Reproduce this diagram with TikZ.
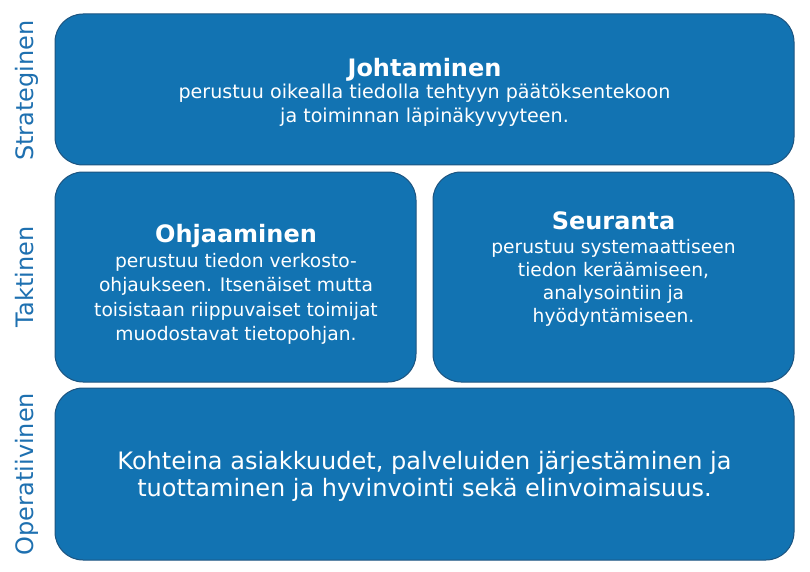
\documentclass[tikz,border=0pt]{standalone}
\usepackage{fontspec}
\setmainfont{DejaVu Sans}
\usetikzlibrary{positioning}
\definecolor{tileblue}{RGB}{18,115,178}
\definecolor{tileedge}{RGB}{28,84,128}
\definecolor{levelblue}{RGB}{30,112,176}

\begin{document}
\begin{tikzpicture}[x=1pt,y=-1pt,
   tile/.style={draw=tileedge,line width=1pt,fill=tileblue,rounded corners=28pt,inner sep=0pt},
   level/.style={text=levelblue,font=\fontsize{24}{24}\selectfont,rotate=90,anchor=base,inner sep=0pt},
   head/.style={text=white,font=\fontsize{24}{24}\selectfont\bfseries,anchor=base,inner sep=0pt},
   body/.style={text=white,align=center,inner sep=0pt}]
   \useasboundingbox (0,0) rectangle (810,572);
   % levels
   \node[level] (strat) at (33,90.5) {Strateginen};
   \node[level] (takt) at (33,277) {Taktinen};
   \node[level] (oper) at (33,474) {Operatiivinen};
   % tiles
   \node[tile,minimum width=739pt,minimum height=151pt] (johto) at (424.5,89.5) {};
   \node[tile,minimum width=361pt,minimum height=210pt] (ohjaus) at (235.5,277) {};
   \node[tile,minimum width=361pt,minimum height=210pt] (seuranta) at (613.5,277) {};
   \node[tile,minimum width=739pt,minimum height=172pt] (kohde) at (424.5,474) {};
   % texts
   \node[head] (jtitle) at (424.5,76.5) {Johtaminen};
   \node[body,font=\fontsize{19.1}{23.5}\selectfont,below=5.5pt of jtitle.base] (jtext)
      {\strut perustuu oikealla tiedolla tehtyyn päätöksentekoon\\ja toiminnan läpinäkyvyyteen.};
   \node[head] (otitle) at (236,242) {Ohjaaminen};
   \node[body,font=\fontsize{18.67}{24.5}\selectfont,below=7.85pt of otitle.base] (otext)
      {\strut perustuu tiedon verkosto-\\ohjaukseen. Itsenäiset mutta\\toisistaan riippuvaiset toimijat\\muodostavat tietopohjan.};
   \node[head] (stitle) at (613.5,229) {Seuranta};
   \node[body,font=\fontsize{18.67}{23}\selectfont,below=7.9pt of stitle.base] (stext)
      {\strut perustuu systemaattiseen\\tiedon keräämiseen,\\analysointiin ja\\hyödyntämiseen.};
   \node[body,font=\fontsize{24}{26}\selectfont,anchor=north] (ktext) at (424.5,450.8)
      {\strut Kohteina asiakkuudet, palveluiden järjestäminen ja\\tuottaminen ja hyvinvointi sekä elinvoimaisuus.};
\end{tikzpicture}
\end{document}
